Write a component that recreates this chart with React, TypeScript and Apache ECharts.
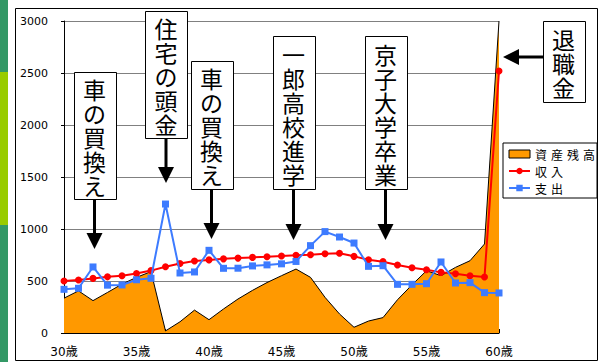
import React, { useEffect, useRef } from "react";
import * as echarts from "echarts";

// Ages shown along the horizontal axis (labels every 5 years)
const ages: string[] = [
  "30歳", "31歳", "32歳", "33歳", "34歳", "35歳", "36歳", "37歳", "38歳", "39歳",
  "40歳", "41歳", "42歳", "43歳", "44歳", "45歳", "46歳", "47歳", "48歳", "49歳",
  "50歳", "51歳", "52歳", "53歳", "54歳", "55歳", "56歳", "57歳", "58歳", "59歳",
  "60歳",
];

// 資産残高 (balance of assets, 万円)
const assets: number[] = [
  335, 405, 311, 390, 470, 535, 590, 20, 108, 220,
  128, 231, 327, 410, 485, 551, 615, 535, 343, 183,
  55, 115, 148, 320, 463, 599, 551, 631, 695, 856,
  3000,
];

// 収入 (income)
const income: number[] = [
  500, 510, 525, 540, 550, 572, 600, 637, 668, 692,
  703, 713, 720, 727, 733, 740, 748, 752, 762, 766,
  737, 705, 686, 654, 628, 609, 583, 570, 551, 538,
  2520,
];

// 支出 (spending)
const spending: number[] = [
  420, 430, 635, 460, 462, 512, 526, 1240, 577, 587,
  795, 622, 623, 645, 655, 665, 688, 840, 975, 923,
  865, 641, 647, 468, 468, 474, 683, 481, 484, 388,
  385,
];

const yTicks = { min: 0, max: 3000, interval: 500 };

// Life-event callouts: vertical text boxes with arrows pointing down
const events = [
  { text: "車の買換え", cx: 94.5, top: 72, bottom: 199, headTop: 233, tip: 249 },
  { text: "住宅の頭金", cx: 166, top: 11, bottom: 138, headTop: 167, tip: 183 },
  { text: "車の買換え", cx: 211.5, top: 61, bottom: 189, headTop: 223, tip: 239 },
  { text: "一郎高校進学", cx: 293.5, top: 36, bottom: 189, headTop: 224, tip: 240 },
  { text: "京子大学卒業", cx: 385.5, top: 36, bottom: 189, headTop: 224, tip: 240 },
];

const CJK = "'Noto Sans CJK JP', sans-serif";
const NUM = "'DejaVu Sans', 'Noto Sans CJK JP', sans-serif";

function verticalBox(text: string, cx: number, top: number, bottom: number) {
  const w = 42;
  return [
    {
      type: "rect",
      shape: { x: Math.round(cx - w / 2) + 0.5, y: top + 0.5, width: w, height: bottom - top },
      style: { fill: "#fff", stroke: "#000", lineWidth: 1 },
      z: 50,
    },
    {
      type: "text",
      x: cx,
      y: (top + bottom) / 2 + 1,
      style: {
        text: text.split("").join("\n"),
        font: `23px ${CJK}`,
        lineHeight: 24,
        fill: "#000",
        align: "center",
        verticalAlign: "middle",
      },
      z: 51,
    },
  ];
}

function downArrow(cx: number, from: number, headTop: number, tip: number) {
  return [
    {
      type: "line",
      shape: { x1: cx, y1: from, x2: cx, y2: headTop + 1 },
      style: { stroke: "#000", lineWidth: 3 },
      z: 50,
    },
    {
      type: "polygon",
      shape: { points: [[cx - 8, headTop], [cx + 8, headTop], [cx, tip]] },
      style: { fill: "#000" },
      z: 50,
    },
  ];
}

export default function App() {
  const ref = useRef<HTMLDivElement>(null);

  useEffect(() => {
    document.body.style.margin = "0";
    if (!ref.current) return;
    const chart = echarts.init(ref.current, null, { renderer: "svg" });

    const graphics: any[] = [
      // side strip
      { type: "rect", shape: { x: 0, y: 0, width: 8, height: 72 }, style: { fill: "#339966" }, z: 0 },
      { type: "rect", shape: { x: 0, y: 72, width: 8, height: 153 }, style: { fill: "#99CC00" }, z: 0 },
      { type: "rect", shape: { x: 0, y: 225, width: 8, height: 137 }, style: { fill: "#339966" }, z: 0 },
      // chart frame
      {
        type: "rect",
        shape: { x: 15.5, y: 8.5, width: 582, height: 352 },
        style: { fill: "none", stroke: "#000", lineWidth: 1 },
        z: 0,
        silent: true,
      },
    ];
    events.forEach((e) => {
      graphics.push(...verticalBox(e.text, e.cx, e.top, e.bottom));
      graphics.push(...downArrow(e.cx, e.bottom, e.headTop, e.tip));
    });
    // 退職金 callout with a left-pointing arrow
    graphics.push(...verticalBox("退職金", 563.5, 21, 102));
    graphics.push({
      type: "line",
      shape: { x1: 543, y1: 57, x2: 518, y2: 57 },
      style: { stroke: "#000", lineWidth: 3 },
      z: 50,
    });
    graphics.push({
      type: "polygon",
      shape: { points: [[519, 49], [519, 65], [503, 57]] },
      style: { fill: "#000" },
      z: 50,
    });

    chart.setOption({
      animation: false,
      backgroundColor: "#fff",
      grid: { left: 64, right: 102, top: 21, bottom: 29, containLabel: false },
      legend: {
        orient: "vertical",
        left: 503,
        top: 143,
        itemWidth: 21,
        itemHeight: 8,
        itemGap: 5,
        padding: [5, 2, 4, 5],
        borderColor: "#000",
        borderWidth: 1,
        borderRadius: 0,
        backgroundColor: "#fff",
        formatter: (name: string) => name.split("").join("\u2004"),
        textStyle: { fontSize: 12, fontFamily: CJK, color: "#000" },
        data: [
          {
            name: "資産残高",
            icon: "rect",
            itemStyle: { color: "#FF9900", borderColor: "#000", borderWidth: 1 },
          },
          { name: "収入" },
          { name: "支出" },
        ],
      },
      xAxis: {
        type: "category",
        data: ages,
        boundaryGap: false,
        axisLine: { show: true, lineStyle: { color: "#000", width: 1 } },
        axisTick: { show: true, inside: true, length: 4, interval: 0, lineStyle: { color: "#000" } },
        axisLabel: {
          interval: 4,
          margin: 13,
          fontSize: 12,
          fontFamily: NUM,
          color: "#000",
        },
        splitLine: { show: false },
      },
      yAxis: {
        type: "value",
        min: yTicks.min,
        max: yTicks.max,
        interval: yTicks.interval,
        axisLine: { show: true, lineStyle: { color: "#000", width: 1 } },
        axisTick: { show: true, length: 3, lineStyle: { color: "#000" } },
        axisLabel: {
          margin: 16,
          fontSize: 11,
          fontFamily: NUM,
          color: "#000",
          formatter: (v: number) => String(v),
        },
        splitLine: { show: true, lineStyle: { color: "#808080", width: 1 } },
      },
      series: [
        {
          name: "資産残高",
          type: "line",
          data: assets,
          symbol: "none",
          lineStyle: { color: "#000", width: 1 },
          itemStyle: { color: "#FF9900", borderColor: "#000" },
          areaStyle: { color: "#FF9900", opacity: 1 },
          z: 2,
        },
        {
          name: "収入",
          type: "line",
          data: income,
          symbol: "circle",
          symbolSize: 7,
          lineStyle: { color: "#FF0000", width: 2 },
          itemStyle: { color: "#FF0000" },
          z: 3,
        },
        {
          name: "支出",
          type: "line",
          data: spending,
          symbol: "rect",
          symbolSize: 7,
          lineStyle: { color: "#3D7BFF", width: 2 },
          itemStyle: { color: "#3D7BFF" },
          z: 4,
        },
      ],
      graphic: graphics,
    });

    return () => chart.dispose();
  }, []);

  return <div ref={ref} style={{ width: 601, height: 362, background: "#fff" }} />;
}
